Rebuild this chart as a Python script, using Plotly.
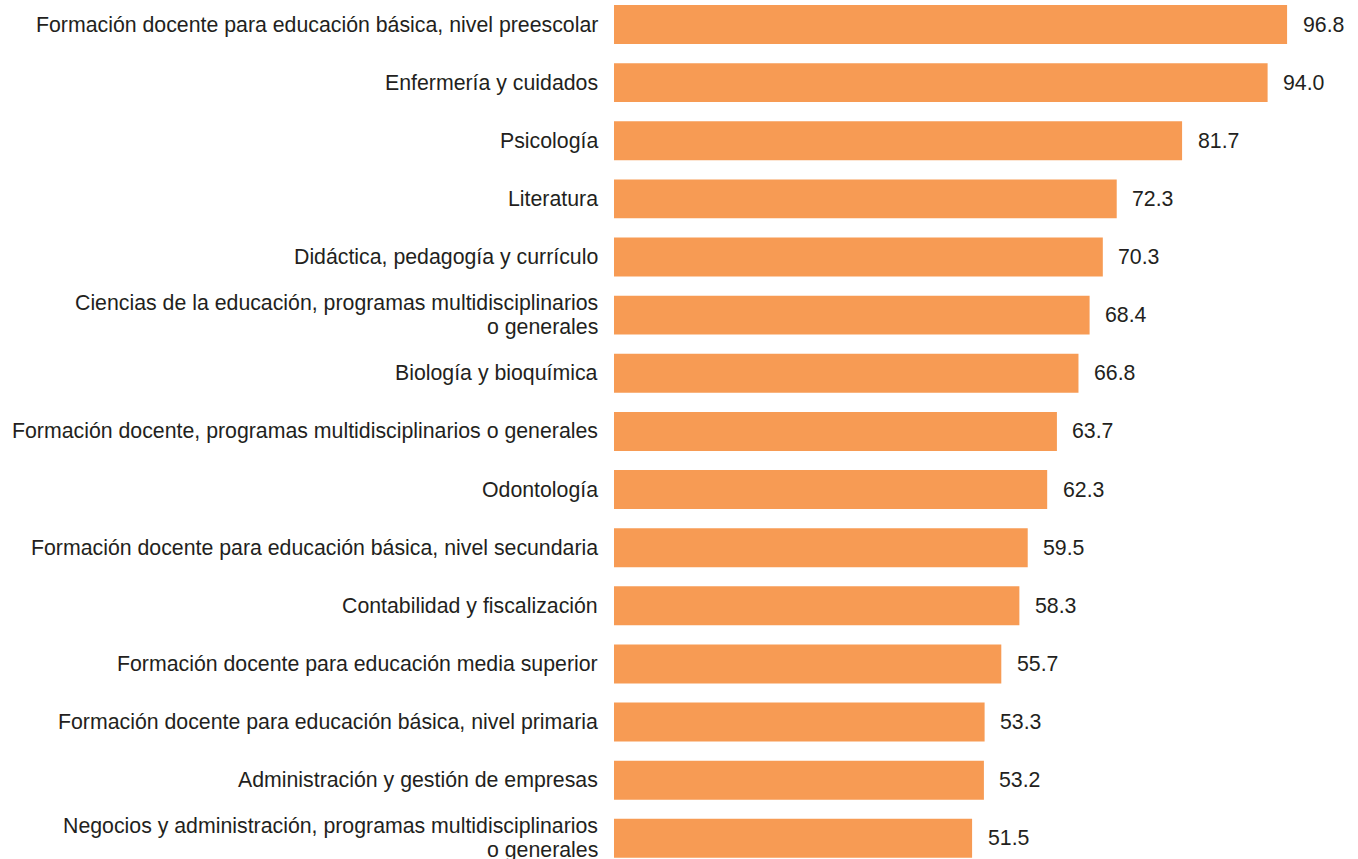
import plotly.graph_objects as go

categories = [
    "Formación docente para educación básica, nivel preescolar",
    "Enfermería y cuidados",
    "Psicología",
    "Literatura",
    "Didáctica, pedagogía y currículo",
    "Ciencias de la educación, programas multidisciplinarios<br>o generales",
    "Biología y bioquímica",
    "Formación docente, programas multidisciplinarios o generales",
    "Odontología",
    "Formación docente para educación básica, nivel secundaria",
    "Contabilidad y fiscalización",
    "Formación docente para educación media superior",
    "Formación docente para educación básica, nivel primaria",
    "Administración y gestión de empresas",
    "Negocios y administración, programas multidisciplinarios<br>o generales",
]
values = [96.8, 94.0, 81.7, 72.3, 70.3, 68.4, 66.8, 63.7, 62.3, 59.5, 58.3, 55.7, 53.3, 53.2, 51.5]

BAR = "#F79B54"
TXT = "#231F20"
FONT = "Liberation Sans, Arial, Helvetica, sans-serif"
FS = 21.3
LINE_GAP = 24

fig = go.Figure(go.Bar(
    x=values, y=categories, orientation="h",
    marker=dict(color=BAR, line=dict(width=0)),
    width=0.67, hoverinfo="skip",
))

for c, v in zip(categories, values):
    # value label
    fig.add_annotation(x=v, y=c, text=f"{v:.1f}", showarrow=False,
                       xanchor="left", yanchor="middle", xshift=13.5,
                       font=dict(family=FONT, size=FS, color=TXT))
    # category label (line by line for tighter leading)
    lines = c.split("<br>")
    n = len(lines)
    for i, ln in enumerate(lines):
        fig.add_annotation(x=0, y=c, text=ln, showarrow=False,
                           xanchor="right", yanchor="middle", align="right",
                           xshift=-13.8, yshift=((n - 1) / 2 - i) * LINE_GAP,
                           font=dict(family=FONT, size=FS, color=TXT))

fig.update_layout(
    template="none",
    width=1358, height=859,
    margin=dict(l=614, r=0, t=0, b=0, pad=0),
    paper_bgcolor="white", plot_bgcolor="white",
    showlegend=False,
    font=dict(family=FONT, size=FS, color=TXT),
)
fig.update_xaxes(range=[0, 107.0], visible=False, showgrid=False, zeroline=False,
                 automargin=False)
fig.update_yaxes(type="category", categoryorder="array", categoryarray=categories,
                 range=[14.356, -0.4215], showgrid=False, zeroline=False, showline=False,
                 automargin=False, showticklabels=False, ticks="")

fig.write_html(
    "out.html",
    config={"displayModeBar": False},
    post_script="document.body.style.margin='0';document.body.style.overflow='hidden';",
)
